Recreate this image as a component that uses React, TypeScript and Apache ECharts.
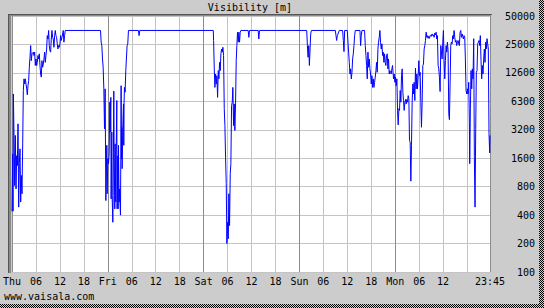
import React, { useEffect, useRef } from 'react';
import * as echarts from 'echarts';

// [hour since Thu 00:00, visibility in metres]
const thursday: [number, number][] = [
  [0, 440], [0.17, 1780], [0.25, 440], [0.33, 7660], [0.5, 2790], [0.67, 822], [0.83, 2790], [1.0, 757],
  [1.17, 1700], [1.33, 1340], [1.5, 3700], [1.67, 486], [1.83, 1400], [2.0, 2010], [2.17, 550], [2.33, 1050],
  [2.5, 673], [2.67, 2270], [2.83, 8330], [3.0, 11070], [3.17, 9770], [3.33, 11070], [3.5, 9770], [3.67, 8680],
  [3.83, 7500], [4.0, 9370], [4.17, 10620], [4.33, 14700], [4.5, 18740], [4.67, 24900], [4.83, 17240], [5.0, 20370],
  [5.17, 20370], [5.33, 21230], [5.5, 19540], [5.67, 21230], [5.83, 15330], [6.0, 17980], [6.17, 15330], [6.33, 16540],
  [6.5, 19540], [6.67, 17980], [6.83, 20370], [7.0, 15330], [7.17, 12450], [7.33, 11540], [7.5, 17240], [7.67, 14700],
  [7.83, 15870], [8.0, 17980], [8.17, 21230], [8.33, 16540], [8.5, 19540], [8.67, 22910], [8.83, 31740], [9.0, 29210],
  [9.17, 36000], [9.33, 24900], [9.5, 21980], [9.67, 21230], [9.83, 29210], [10.0, 36000], [10.17, 30445], [10.33, 29210],
  [10.5, 23890], [10.67, 31740], [10.83, 36000], [11.0, 31740], [11.17, 30445], [11.33, 25960], [11.5, 22910], [11.67, 24900],
  [11.83, 23890], [12.0, 25960], [12.17, 31740], [12.33, 28210], [12.5, 30445], [12.67, 33080], [12.83, 36000], [13.0, 27060],
  [13.17, 31740], [13.33, 36000], [22.17, 36000], [22.33, 27060], [22.5, 24900], [22.67, 17980], [22.83, 14700], [23.0, 8680],
  [23.17, 3270],
];

const friday: [number, number][] = [
  [23.33, 8680], [23.5, 570], [23.75, 2190], [23.83, 673], [24.0, 1580], [24.17, 1400], [24.33, 1780], [24.5, 6270],
  [24.58, 3030], [24.75, 7050], [24.83, 594], [25.0, 3030], [25.08, 645], [25.25, 336], [25.33, 645], [25.5, 8200],
  [25.58, 1850], [25.75, 466], [25.83, 2270], [26.0, 550], [26.08, 1700], [26.25, 6530], [26.33, 466], [26.5, 1700],
  [26.58, 466], [26.67, 2190], [26.83, 550], [26.92, 757], [27.17, 400], [27.25, 1580], [27.33, 9370], [27.42, 1580],
  [27.5, 3400], [27.58, 1240], [27.67, 2190], [27.75, 3400], [27.92, 6010], [28.0, 2190], [28.08, 6270], [28.17, 8990],
  [28.33, 7990], [28.5, 13530], [28.67, 13530], [28.83, 24900], [29.0, 25960], [29.17, 36000], [31.67, 36000], [31.83, 31740],
  [32.0, 36000], [50.42, 36000],
];

const saturday: [number, number][] = [
  [50.5, 28210], [50.67, 14110], [50.83, 8990], [51.0, 12450], [51.17, 9770], [51.33, 11940], [51.5, 7050], [51.67, 13530],
  [51.83, 11070], [52.0, 16540], [52.17, 13530], [52.33, 20370], [52.5, 22910], [52.67, 21230], [52.83, 23890], [53.0, 19540],
  [53.17, 5340], [53.33, 3550], [53.5, 1640], [53.67, 860], [53.83, 200], [54.0, 336], [54.17, 225], [54.33, 673],
  [54.5, 310], [54.67, 1100], [54.83, 1400], [55.0, 5770], [55.17, 6270], [55.33, 8990], [55.5, 3550], [55.67, 6010],
  [55.83, 3150], [56.0, 6010], [56.17, 17240], [56.33, 24900], [56.5, 34490], [56.67, 27060], [56.83, 34490], [57.0, 27060],
  [57.17, 34490], [57.33, 36000], [59.17, 36000], [59.33, 30445], [59.5, 36000], [61.67, 36000], [61.83, 29210], [62.0, 36000],
];

const sunday: [number, number][] = [
  [73.83, 36000], [74.0, 24900], [74.17, 18740], [74.33, 24900], [74.5, 15330], [74.67, 22910], [74.83, 33080], [75.0, 36000],
  [81.0, 36000], [81.17, 31740], [81.33, 28210], [81.5, 31740], [81.67, 33080], [82.0, 36000], [82.83, 36000], [83.0, 28210],
  [83.17, 21500], [83.33, 36000], [84.0, 36000], [84.17, 27060], [84.33, 21230], [84.5, 16540], [84.67, 12450], [84.83, 14110],
  [85.0, 11070], [85.17, 12980], [85.33, 17980], [85.5, 20370], [85.67, 24900], [85.83, 31740], [86.0, 36000], [87.17, 36000],
  [87.33, 24900], [87.5, 31740], [87.67, 36000], [88.33, 36000], [88.5, 24900], [88.67, 19540], [88.83, 15330], [89.0, 11070],
  [89.17, 21230], [89.33, 14700], [89.5, 17980], [89.67, 14110], [89.83, 12450], [90.0, 9770], [90.17, 11940], [90.33, 8990],
  [90.5, 11070], [90.67, 8990], [90.83, 10180], [91.0, 11540], [91.17, 13530], [91.33, 16540], [91.5, 12980], [91.67, 22910],
  [91.83, 27060], [92.0, 30445], [92.17, 36000], [92.33, 27060], [92.5, 22910], [92.67, 25960], [92.83, 19540], [93.0, 21230],
  [93.17, 16540], [93.33, 20370], [93.5, 16540], [93.67, 15330], [93.83, 19540], [94.0, 20370], [94.17, 14110], [94.33, 17980],
  [94.5, 12450], [94.67, 13530], [94.83, 12980], [95.0, 12450], [95.17, 14110], [95.33, 15330],
];

const monday: [number, number][] = [
  [95.58, 11070], [95.75, 12450], [95.92, 10180], [96.08, 11540], [96.25, 9370], [96.42, 11070], [96.58, 5130], [96.75, 3610],
  [96.92, 5340], [97.08, 5130], [97.25, 8330], [97.42, 6270], [97.58, 11940], [97.75, 14110], [97.92, 7990], [98.08, 6530],
  [98.25, 5130], [98.42, 6270], [98.58, 6700], [98.75, 6010], [98.92, 6700], [99.08, 6270], [99.25, 7350], [99.42, 6810],
  [99.58, 2460], [99.75, 2360], [99.92, 915], [100.08, 2190], [100.25, 6270], [100.42, 9770], [100.58, 7660], [100.75, 10180],
  [100.92, 6530], [101.08, 14350], [101.25, 8680], [101.42, 12450], [101.58, 8680], [101.75, 11940], [101.92, 17240], [102.08, 11940],
  [102.25, 12980], [102.42, 6270], [102.58, 3400], [102.75, 6270], [102.92, 15330], [103.08, 15870], [103.25, 22910], [103.42, 24900],
  [103.58, 28210], [103.75, 34490], [103.92, 30445], [104.08, 31740], [104.25, 29700], [104.42, 31200], [104.58, 29700], [104.75, 31740],
  [104.92, 32300], [105.08, 31200], [105.25, 33080], [105.42, 31740], [105.58, 32300], [105.75, 30445], [105.92, 33800], [106.08, 32300],
  [106.25, 34490], [106.42, 29210], [106.58, 31740], [106.75, 15330], [106.92, 14110], [107.08, 11540], [107.25, 8130], [107.42, 24900],
  [107.58, 24900], [107.75, 17980], [107.92, 27060], [108.08, 36000], [108.25, 17240], [108.42, 11070], [108.58, 17240], [108.75, 24900],
  [108.92, 21230], [109.08, 27060], [109.25, 21980], [109.42, 4720], [109.58, 4090], [109.75, 9770], [109.92, 24900], [110.08, 27060],
  [110.25, 25960], [110.42, 31740], [110.58, 29210], [110.75, 36000], [110.92, 30445], [111.08, 27060], [111.25, 28210], [111.42, 24900],
  [111.58, 27060], [111.75, 28210], [111.92, 25960], [112.08, 24900], [112.25, 34490], [112.42, 36000], [112.58, 30445], [112.75, 33080],
  [112.92, 31200], [113.08, 29210], [113.25, 31740], [113.42, 30445], [113.58, 17980], [113.75, 8330], [113.92, 7660], [114.08, 8680],
  [114.25, 7660], [114.42, 10180], [114.58, 3800], [114.67, 1400], [114.83, 5340], [115.0, 13530], [115.17, 8680], [115.33, 14110],
  [115.5, 11070], [115.67, 29500], [115.83, 1660], [116.0, 486], [116.17, 3270], [116.33, 12980], [116.5, 13530], [116.67, 25960],
  [116.83, 27060], [117.0, 28210], [117.17, 24900], [117.33, 31740], [117.5, 17240], [117.67, 11070], [117.83, 15330], [118.0, 12450],
  [118.17, 17980], [118.33, 22910], [118.5, 16540], [118.67, 27060], [118.83, 22910], [119.0, 29500], [119.17, 25960], [119.33, 22910],
  [119.5, 2900], [119.67, 1820], [119.75, 2790],
];

const yTickLabels = ['100', '200', '400', '800', '1600', '3200', '6300', '12600', '25000', '50000'];
const xTickLabels = ['Thu', '06', '12', '18', 'Fri', '06', '12', '18', 'Sat', '06', '12', '18', 'Sun', '06', '12', '18', 'Mon', '06', '12', ''];
const endLabel = '23:45';
const endHour = 119.75;
const titleText = 'Visibility [m]';
const creditText = 'www.vaisala.com';

export default function App() {
  const ref = useRef<HTMLDivElement>(null);
  useEffect(() => {
    if (!ref.current) return;
    const chart = echarts.init(ref.current, null, { renderer: 'svg' });
    const font = 'DejaVu Sans Mono';
    const all = [...thursday, ...friday, ...saturday, ...sunday, ...monday];
    const data = all.map(([h, v]) => [h, Math.log2(v / 100)]);

    const canvas = document.createElement('canvas');
    canvas.width = 2;
    canvas.height = 2;
    const ctx = canvas.getContext('2d');
    if (ctx) {
      ctx.fillStyle = '#d0d0d0';
      ctx.fillRect(0, 0, 2, 2);
      ctx.fillStyle = '#000000';
      ctx.fillRect(0, 0, 1, 1);
      ctx.fillRect(1, 1, 1, 1);
    }
    const checker: any = { image: canvas, repeat: 'repeat', imageWidth: 2, imageHeight: 2 };

    chart.setOption({
      animation: false,
      backgroundColor: '#cccccc',
      textStyle: { fontFamily: font },
      grid: { left: 11, top: 16, right: 54, bottom: 36, show: true, backgroundColor: '#ffffff', borderWidth: 0 },
      xAxis: {
        type: 'value',
        min: 0,
        max: endHour,
        interval: 6,
        axisLine: { show: false },
        axisTick: { show: false },
        axisLabel: {
          fontFamily: font,
          fontSize: 10,
          color: '#000000',
          margin: 4,
          showMinLabel: true,
          showMaxLabel: true,
          formatter: (v: number) => (v >= endHour - 0.01 ? endLabel : xTickLabels[Math.round(v / 6)] ?? ''),
        },
        splitLine: { show: true, lineStyle: { color: ['#8c8c8c', '#c4c4c4', '#c4c4c4', '#c4c4c4'], width: 1 } },
      },
      yAxis: {
        type: 'value',
        position: 'right',
        min: 0,
        max: 9,
        interval: 1,
        axisLine: { show: false },
        axisTick: { show: false },
        axisLabel: {
          fontFamily: font,
          fontSize: 10,
          color: '#000000',
          align: 'right',
          margin: 45,
          formatter: (v: number) => yTickLabels[Math.round(v)] ?? '',
        },
        splitLine: { show: true, lineStyle: { color: '#c4c4c4', width: 1 } },
      },
      series: [
        {
          type: 'line',
          data,
          symbol: 'none',
          showSymbol: false,
          lineStyle: { color: '#0000ff', width: 1 },
          z: 3,
        },
      ],
      graphic: [
        { type: 'rect', shape: { x: 8, y: 14, width: 484, height: 1 }, style: { fill: '#555555' } },
        { type: 'rect', shape: { x: 9, y: 15, width: 482, height: 1 }, style: { fill: '#8a8a8a' } },
        { type: 'rect', shape: { x: 8, y: 14, width: 1, height: 259 }, style: { fill: '#555555' } },
        { type: 'rect', shape: { x: 9, y: 15, width: 2, height: 258 }, style: { fill: '#8a8a8a' } },
        { type: 'rect', shape: { x: 539, y: 0, width: 5, height: 308 }, style: { fill: checker } },
        { type: 'rect', shape: { x: 0, y: 304, width: 544, height: 4 }, style: { fill: checker } },
        {
          type: 'text',
          style: { text: titleText, x: 250, y: 7, textAlign: 'center', textVerticalAlign: 'middle', fontFamily: font, fontSize: 10, fill: '#000000' },
        },
        {
          type: 'text',
          style: { text: creditText, x: 4, y: 296, textAlign: 'left', textVerticalAlign: 'middle', fontFamily: font, fontSize: 10, fill: '#000000' },
        },
      ],
    });
    return () => chart.dispose();
  }, []);
  return <div ref={ref} style={{ position: 'absolute', left: 0, top: 0, width: 544, height: 308 }} />;
}
